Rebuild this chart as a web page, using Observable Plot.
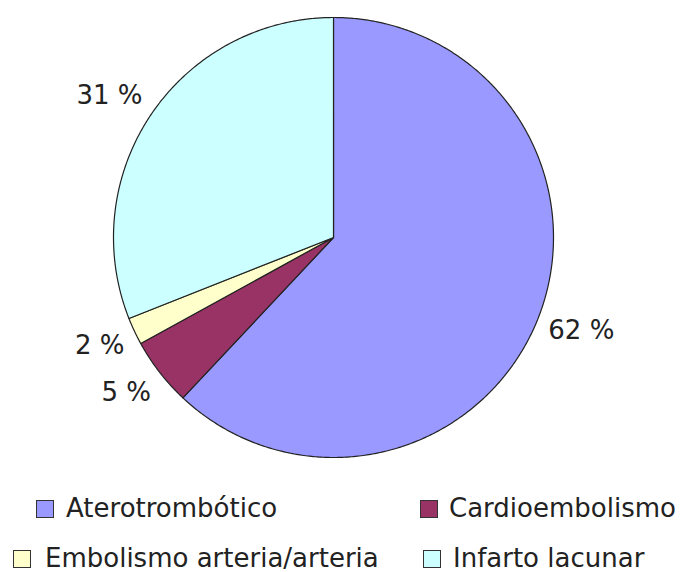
<!DOCTYPE html>
<html>
<head>
<meta charset="utf-8">
<script src="https://cdn.jsdelivr.net/npm/d3@7"></script>
<script src="https://cdn.jsdelivr.net/npm/@observablehq/plot@0.6"></script>
<style>
  html, body { margin: 0; padding: 0; background: #fff; }
  #wrap { position: relative; width: 682px; height: 572px; font-family: "DejaVu Sans", Verdana, sans-serif; }
  #chart svg { display: block; }
  .item { position: absolute; font-size: 26px; line-height: 30px; color: #222; white-space: nowrap; }
  .box { position: absolute; width: 16px; height: 16px; border: 1px solid #333; }
</style>
</head>
<body>
<div id="wrap">
  <div id="chart"></div>
  <div id="legend"></div>
</div>
<script>
// Data
const categories = ["Aterotrombótico", "Cardioembolismo", "Embolismo arteria/arteria", "Infarto lacunar"];
const values = [62, 5, 2, 31];
const labels = ["62 %", "5 %", "2 %", "31 %"];
const colors = ["#9999ff", "#993366", "#ffffcc", "#ccffff"];

const data = categories.map((c, i) => ({category: c, value: values[i], label: labels[i]}));
const arcs = d3.pie().sort(null).value(d => d.value)(data);

// Build slice polygons (unit circle, y down) from pie angles
function slicePolygon(a) {
  const pts = [[0, 0]];
  const n = Math.max(2, Math.ceil((a.endAngle - a.startAngle) / (Math.PI / 360)));
  for (let k = 0; k <= n; k++) {
    const t = a.startAngle + (a.endAngle - a.startAngle) * k / n;
    pts.push([Math.sin(t), -Math.cos(t)]);
  }
  pts.push([0, 0]);
  return {type: "Feature", properties: {category: a.data.category}, geometry: {type: "Polygon", coordinates: [pts]}};
}
const slices = arcs.map(slicePolygon);

const circle = {type: "Polygon", coordinates: [d3.range(0, 361, 2).map(deg => [Math.sin(deg * Math.PI / 180), -Math.cos(deg * Math.PI / 180)])]};

const labelData = arcs.map(a => {
  const m = (a.startAngle + a.endAngle) / 2;
  return {label: a.data.label, x: 1.05 * Math.sin(m), y: -1.15 * Math.cos(m), anchor: Math.sin(m) >= 0 ? "start" : "end"};
});

const chart = Plot.plot({
  width: 682,
  height: 480,
  marginLeft: 113,
  marginRight: 129,
  marginTop: 17,
  marginBottom: 23,
  projection: {type: "identity", domain: circle},
  color: {domain: categories, range: colors},
  style: {fontFamily: "DejaVu Sans, Verdana, sans-serif", background: "#fff", overflow: "visible"},
  marks: [
    Plot.geo(slices, {fill: d => d.properties.category, stroke: "#222", strokeWidth: 1.2, strokeLinejoin: "round"}),
    Plot.text(labelData.filter(d => d.anchor === "start"), {x: "x", y: "y", text: "label", textAnchor: "start", fontSize: 26, fill: "#222"}),
    Plot.text(labelData.filter(d => d.anchor === "end"), {x: "x", y: "y", text: "label", textAnchor: "end", fontSize: 26, fill: "#222"})
  ]
});
document.getElementById("chart").appendChild(chart);

// Legend (HTML, below the SVG)
const legendPos = [
  {box: [36, 500], text: [66, 493]},
  {box: [420, 500], text: [449, 493]},
  {box: [13, 550], text: [45, 543]},
  {box: [423, 550], text: [453, 543]}
];
const legend = document.getElementById("legend");
categories.forEach((c, i) => {
  const b = document.createElement("div");
  b.className = "box";
  b.style.left = legendPos[i].box[0] + "px";
  b.style.top = legendPos[i].box[1] + "px";
  b.style.background = colors[i];
  legend.appendChild(b);
  const t = document.createElement("div");
  t.className = "item";
  t.style.left = legendPos[i].text[0] + "px";
  t.style.top = legendPos[i].text[1] + "px";
  t.textContent = c;
  legend.appendChild(t);
});
</script>
</body>
</html>
